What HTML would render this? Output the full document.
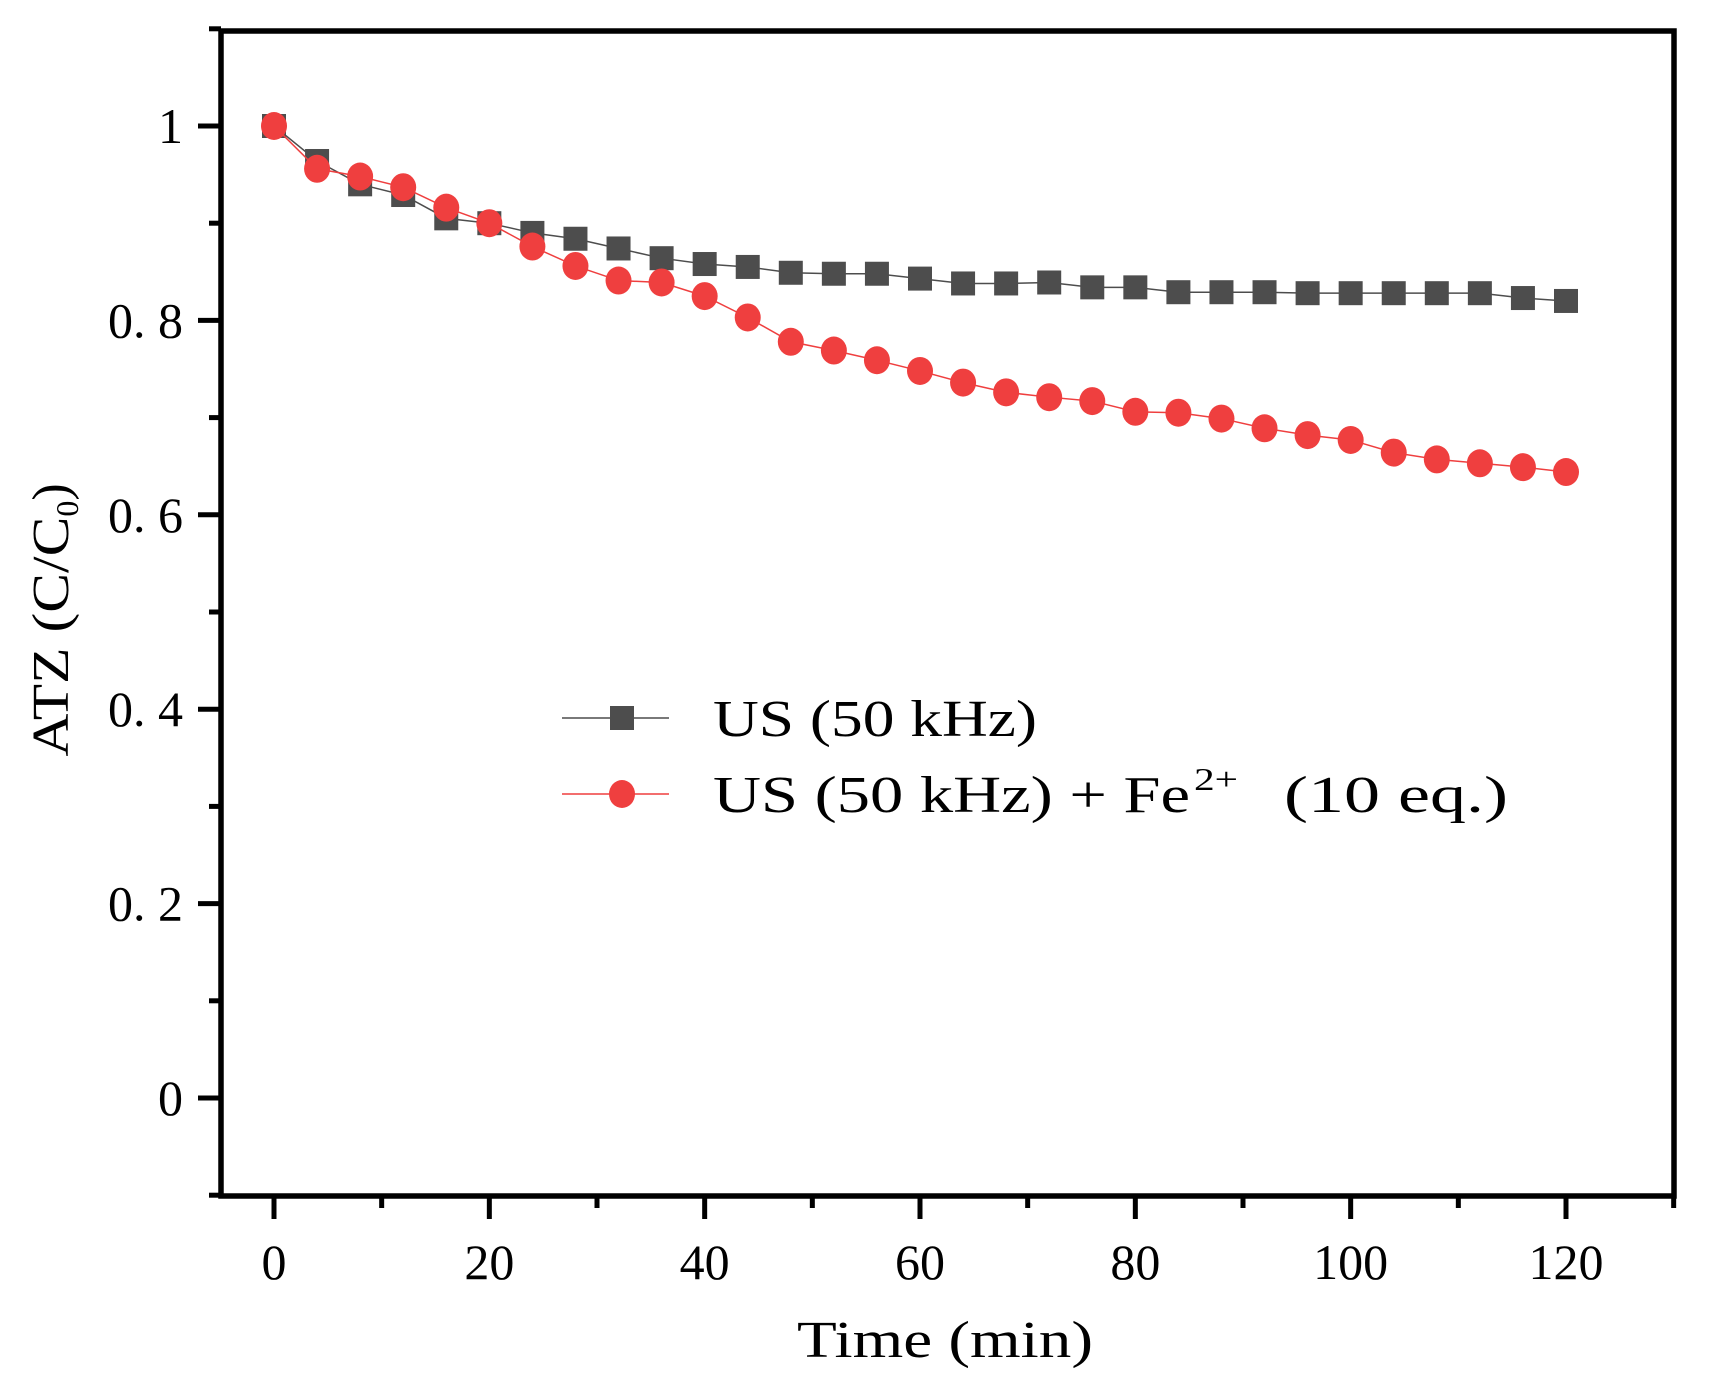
<!DOCTYPE html>
<html><head><meta charset="utf-8"><style>
html,body{margin:0;padding:0;background:#fff;}
svg{display:block;font-family:"Liberation Serif","Noto Serif CJK SC",serif;}
</style></head><body>
<svg id="chart" width="1717" height="1393" viewBox="0 0 1717 1393" xmlns="http://www.w3.org/2000/svg">
<g id="plot"></g>
<g id="axes"></g>
<g id="legend">
  <line x1="562" y1="718" x2="669" y2="718" stroke="#4d4d4d" stroke-width="1.5"/>
  <rect x="610" y="706" width="24" height="24" fill="#4d4d4d"/>
  <text x="713" y="736" font-size="52" textLength="324" lengthAdjust="spacingAndGlyphs">US (50 kHz)</text>
  <line x1="562" y1="794" x2="669" y2="794" stroke="#ef3f3f" stroke-width="1.5"/>
  <ellipse cx="622" cy="794" rx="13" ry="14" fill="#ef3f3f"/>
  <text x="713" y="812" font-size="52" textLength="477" lengthAdjust="spacingAndGlyphs">US (50 kHz) + Fe</text>
  <text x="1194" y="790" font-size="32" textLength="44" lengthAdjust="spacingAndGlyphs">2+</text>
  <text x="1284" y="812" font-size="52" textLength="224" lengthAdjust="spacingAndGlyphs">(10 eq.)</text>
</g>
<text transform="translate(68,620) rotate(-90)" text-anchor="middle" font-size="52"><tspan textLength="240" lengthAdjust="spacingAndGlyphs">ATZ (C/C</tspan><tspan font-size="32" dy="10">0</tspan><tspan dy="-10">)</tspan></text>
<text x="945" y="1357" text-anchor="middle" font-size="52" textLength="296" lengthAdjust="spacingAndGlyphs">Time (min)</text>
</svg>
<script>
const times = [0,4,8,12,16,20,24,28,32,36,40,44,48,52,56,60,64,68,72,76,80,84,88,92,96,100,104,108,112,116,120];
const usValues = [1.0,0.964,0.94,0.929,0.905,0.90,0.89,0.884,0.874,0.864,0.858,0.855,0.849,0.848,0.848,0.843,0.838,0.838,0.839,0.834,0.834,0.829,0.829,0.829,0.828,0.828,0.828,0.828,0.828,0.823,0.82];
const usFeValues = [1.0,0.956,0.948,0.937,0.916,0.90,0.876,0.856,0.841,0.839,0.825,0.803,0.778,0.769,0.759,0.748,0.736,0.726,0.721,0.717,0.706,0.705,0.699,0.689,0.682,0.677,0.664,0.657,0.653,0.649,0.644];
const xTicks = [0,20,40,60,80,100,120];
const xTickLabels = ["0","20","40","60","80","100","120"];
const yTicks = [0,0.2,0.4,0.6,0.8,1];
const yTickLabels = ["0","0.2","0.4","0.6","0.8","1"];

const NS="http://www.w3.org/2000/svg";
const X0=274, XK=(1566-274)/120, Y0=1098, YK=972;
function xs(v){return X0+v*XK;}
function ys(v){return Y0-v*YK;}
function mk(tag,attrs,parent){const e=document.createElementNS(NS,tag);for(const k in attrs)e.setAttribute(k,attrs[k]);parent.appendChild(e);return e;}
const plot=document.getElementById('plot'), axes=document.getElementById('axes');

function series(vals,color,kind,name){
  const pts=times.map((t,i)=>xs(t)+','+ys(vals[i])).join(' ');
  const pl=mk('polyline',{points:pts,fill:'none',stroke:color,'stroke-width':1.5},plot);
  
  
  times.forEach((t,i)=>{
    let m;
    if(kind==='sq') m=mk('rect',{x:xs(t)-12,y:ys(vals[i])-12,width:24,height:24,fill:color},plot);
    else m=mk('ellipse',{cx:xs(t),cy:ys(vals[i]),rx:13,ry:14,fill:color},plot);
    
    
  });
}
series(usValues,'#4d4d4d','sq','us-series');
series(usFeValues,'#ef3f3f','ci','us-fe-series');

const fr=mk('rect',{x:221,y:31,width:1453,height:1165,fill:'none',stroke:'#000','stroke-width':5.5},axes);


for(let v=0;v<=130;v+=10){
  const major=v%20===0;
  const t=mk('line',{x1:xs(v),y1:1196,x2:xs(v),y2:major?1219:1208,stroke:'#000','stroke-width':5},axes);
  
  
}
xTicks.forEach((v,i)=>{
  const t=mk('text',{x:xs(v),y:1279,'text-anchor':'middle','font-size':50},axes);
  t.textContent=xTickLabels[i];
  
  
});
for(let k=-1;k<=11;k++){
  const v=k/10, major=k%2===0&&k>=0;
  const t=mk('line',{x1:221,y1:ys(v),x2:major?198:209,y2:ys(v),stroke:'#000','stroke-width':5},axes);
  
  
}
yTicks.forEach((v,i)=>{
  const t=mk('text',{x:183,y:ys(v)+17,'text-anchor':'end','font-size':50},axes);
  t.textContent=yTickLabels[i].replace('.','. ');
  
  
});
</script>
</body></html>
